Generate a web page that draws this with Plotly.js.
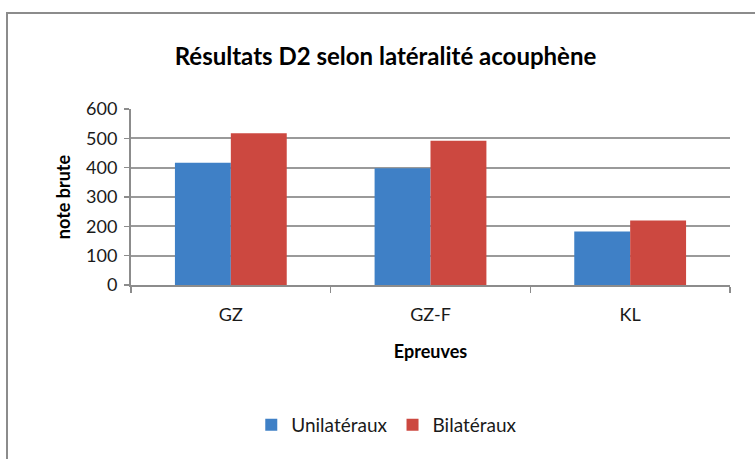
<!DOCTYPE html>
<html>
<head>
<meta charset="utf-8">
<script src="https://cdn.plot.ly/plotly-3.0.1.min.js"></script>
<style>
  html, body { margin: 0; padding: 0; background: #fff; }
  #frame { position: absolute; left: 6px; top: 12px; width: 760px; height: 460px;
           border-left: 2px solid #8c8c8c; border-top: 2px solid #8c8c8c; box-sizing: border-box; }
  #chart { position: absolute; left: 0; top: 0; width: 755px; height: 459px; }
</style>
</head>
<body>
<div id="frame"></div>
<div id="chart"></div>
<script>
const categories = ["GZ", "GZ-F", "KL"];
const seriesNames = ["Unilatéraux", "Bilatéraux"];
const unilateraux = [417, 398, 182];
const bilateraux = [517, 492, 220];
const yTicks = [0, 100, 200, 300, 400, 500, 600];

const font = "Lato, 'Open Sans', sans-serif";
const txt = "#1a1a1a";

const traces = [
  { type: "bar", name: seriesNames[0], x: categories, y: unilateraux,
    marker: { color: "#3f80c6", line: { width: 0 } } },
  { type: "bar", name: seriesNames[1], x: categories, y: bilateraux,
    marker: { color: "#cc4840", line: { width: 0 } } }
];

const layout = {
  width: 755, height: 459,
  margin: { l: 131, r: 25, t: 109, b: 174 },
  paper_bgcolor: "rgba(0,0,0,0)",
  plot_bgcolor: "rgba(0,0,0,0)",
  barmode: "group",
  bargap: 0.44,
  bargroupgap: 0,
  showlegend: true,
  title: {
    text: "<b>Résultats D2 selon latéralité acouphène</b>",
    font: { family: font, size: 24, color: "#000" },
    x: 385.5 / 755, xanchor: "center", xref: "container",
    y: 1 - 57 / 459, yanchor: "middle", yref: "container"
  },
  xaxis: {
    type: "category",
    tickson: "boundaries",
    ticks: "outside", ticklen: 6, tickcolor: "#8c8c8c", tickwidth: 1.5,
    showline: true, linecolor: "#8c8c8c", linewidth: 2,
    showgrid: false,
    tickfont: { family: font, size: 18, color: txt },
    ticklabelstandoff: 12,
    title: { text: "<b>Epreuves</b>", font: { family: font, size: 18, color: "#000" }, standoff: 22 },
    fixedrange: true
  },
  yaxis: {
    range: [0, 600],
    tickvals: yTicks,
    ticktext: yTicks.map(String),
    ticks: "outside", ticklen: 5, tickcolor: "#8c8c8c", tickwidth: 1.5,
    showline: true, linecolor: "#8c8c8c", linewidth: 2,
    showgrid: true, gridcolor: "#9a9a9a", gridwidth: 2,
    zeroline: false,
    tickfont: { family: font, size: 18, color: txt },
    ticklabelstandoff: 3,
    title: { text: "<b>note brute</b>", font: { family: font, size: 18, color: "#000" }, standoff: 11 },
    fixedrange: true
  },
  legend: {
    orientation: "h",
    x: 0.427, xanchor: "center",
    y: -(425 - 285) / 176, yanchor: "middle",
    font: { family: font, size: 19, color: txt },
    itemwidth: 30,
    traceorder: "normal"
  }
};

Plotly.newPlot("chart", traces, layout, { displayModeBar: false, staticPlot: true });
</script>
</body>
</html>
